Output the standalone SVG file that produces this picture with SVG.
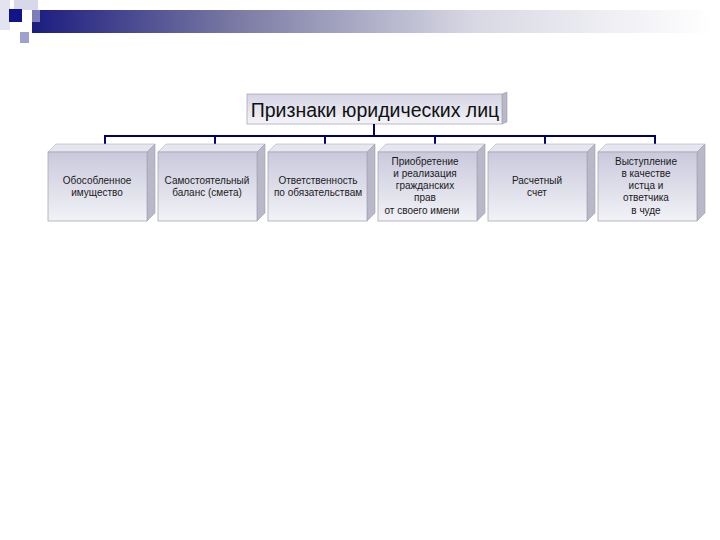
<svg xmlns="http://www.w3.org/2000/svg" width="720" height="540" viewBox="0 0 720 540">
<defs>
<linearGradient id="bar" x1="0" y1="0" x2="1" y2="0">
<stop offset="0" stop-color="#1c1c80"/>
<stop offset="0.3" stop-color="#7a7aa4"/>
<stop offset="0.65" stop-color="#d8d8e4"/>
<stop offset="1" stop-color="#ffffff"/>
</linearGradient>
<linearGradient id="front" x1="0" y1="0" x2="0" y2="1">
<stop offset="0" stop-color="#c9c9dc"/>
<stop offset="1" stop-color="#f2f2f7"/>
</linearGradient>
<linearGradient id="rootf" x1="0" y1="0" x2="0" y2="1">
<stop offset="0" stop-color="#d4d4e4"/>
<stop offset="1" stop-color="#f4f4f8"/>
</linearGradient>
<style>
.fr{fill:url(#front);stroke:#a8a8b8;stroke-width:0.8}
.tp{fill:#e6e6f0;stroke:#b0b0c0;stroke-width:0.6}
.sd{fill:#b8b8c8;stroke:#a0a0b0;stroke-width:0.6}
.t{font-family:"Liberation Sans",Arial,sans-serif;font-size:10px;fill:#1a1a1a;text-anchor:middle}
.c{stroke:#000066;stroke-width:2;fill:none}
</style>
</defs>
<rect width="720" height="540" fill="#ffffff"/>
<g id="decor">
<rect x="32" y="10" width="680" height="23" fill="url(#bar)"/>
<rect x="14" y="0" width="24" height="10" fill="#d8d8ea"/>
<rect x="32" y="10" width="8" height="12" fill="#c0c0dc" opacity="0.6"/>
<rect x="0" y="0" width="10" height="30" fill="#e4e4f0"/>
<rect x="9" y="9" width="13" height="13" fill="#14148a"/>
<rect x="20" y="32" width="9" height="11" fill="#a0a0cc"/>
</g>
<g id="root">
<polygon points="502,94 507,92 507,122 502,124" class="sd"/>
<rect x="247" y="94" width="255" height="30" fill="url(#rootf)" stroke="#a8a8b8" stroke-width="0.8"/>
<text x="375" y="117" font-family="'Liberation Sans',Arial,sans-serif" font-size="19.5" fill="#111" text-anchor="middle">Признаки юридических лиц</text>
</g>
<g id="connectors">
<path class="c" d="M374 124V136M105 136H655M105 135V145M215 135V145M325 135V145M435 135V145M545 135V145M655 135V145"/>
</g>
<g id="n1">
<polygon class="tp" points="48,152 56,144 155,144 147,152"/>
<polygon class="sd" points="147,152 155,144 155,213 147,221"/>
<rect class="fr" x="48" y="152" width="99" height="69"/>
<text class="t" x="97" y="184">Обособленное</text>
<text class="t" x="97" y="196">имущество</text>
</g>
<g id="n2">
<polygon class="tp" points="158,152 166,144 265,144 257,152"/>
<polygon class="sd" points="257,152 265,144 265,213 257,221"/>
<rect class="fr" x="158" y="152" width="99" height="69"/>
<text class="t" x="207" y="184">Самостоятельный</text>
<text class="t" x="207" y="196">баланс (смета)</text>
</g>
<g id="n3">
<polygon class="tp" points="268,152 276,144 375,144 367,152"/>
<polygon class="sd" points="367,152 375,144 375,213 367,221"/>
<rect class="fr" x="268" y="152" width="99" height="69"/>
<text class="t" x="318" y="184">Ответственность</text>
<text class="t" x="318" y="196">по обязательствам</text>
</g>
<g id="n4">
<polygon class="tp" points="378,152 386,144 485,144 477,152"/>
<polygon class="sd" points="477,152 485,144 485,213 477,221"/>
<rect class="fr" x="378" y="152" width="99" height="69"/>
<text class="t" x="425" y="165">Приобретение</text>
<text class="t" x="425" y="177">и  реализация</text>
<text class="t" x="425" y="189">гражданских</text>
<text class="t" x="425" y="201">прав</text>
<text class="t" x="422" y="214">от своего  имени</text>
</g>
<g id="n5">
<polygon class="tp" points="488,152 496,144 595,144 587,152"/>
<polygon class="sd" points="587,152 595,144 595,213 587,221"/>
<rect class="fr" x="488" y="152" width="99" height="69"/>
<text class="t" x="537" y="184">Расчетный</text>
<text class="t" x="537" y="196">счет</text>
</g>
<g id="n6">
<polygon class="tp" points="598,152 606,144 705,144 697,152"/>
<polygon class="sd" points="697,152 705,144 705,213 697,221"/>
<rect class="fr" x="598" y="152" width="99" height="69"/>
<text class="t" x="646" y="165">Выступление</text>
<text class="t" x="646" y="177">в качестве</text>
<text class="t" x="646" y="189">истца и</text>
<text class="t" x="646" y="201">ответчика</text>
<text class="t" x="646" y="214">в чуде</text>
</g>
</svg>
